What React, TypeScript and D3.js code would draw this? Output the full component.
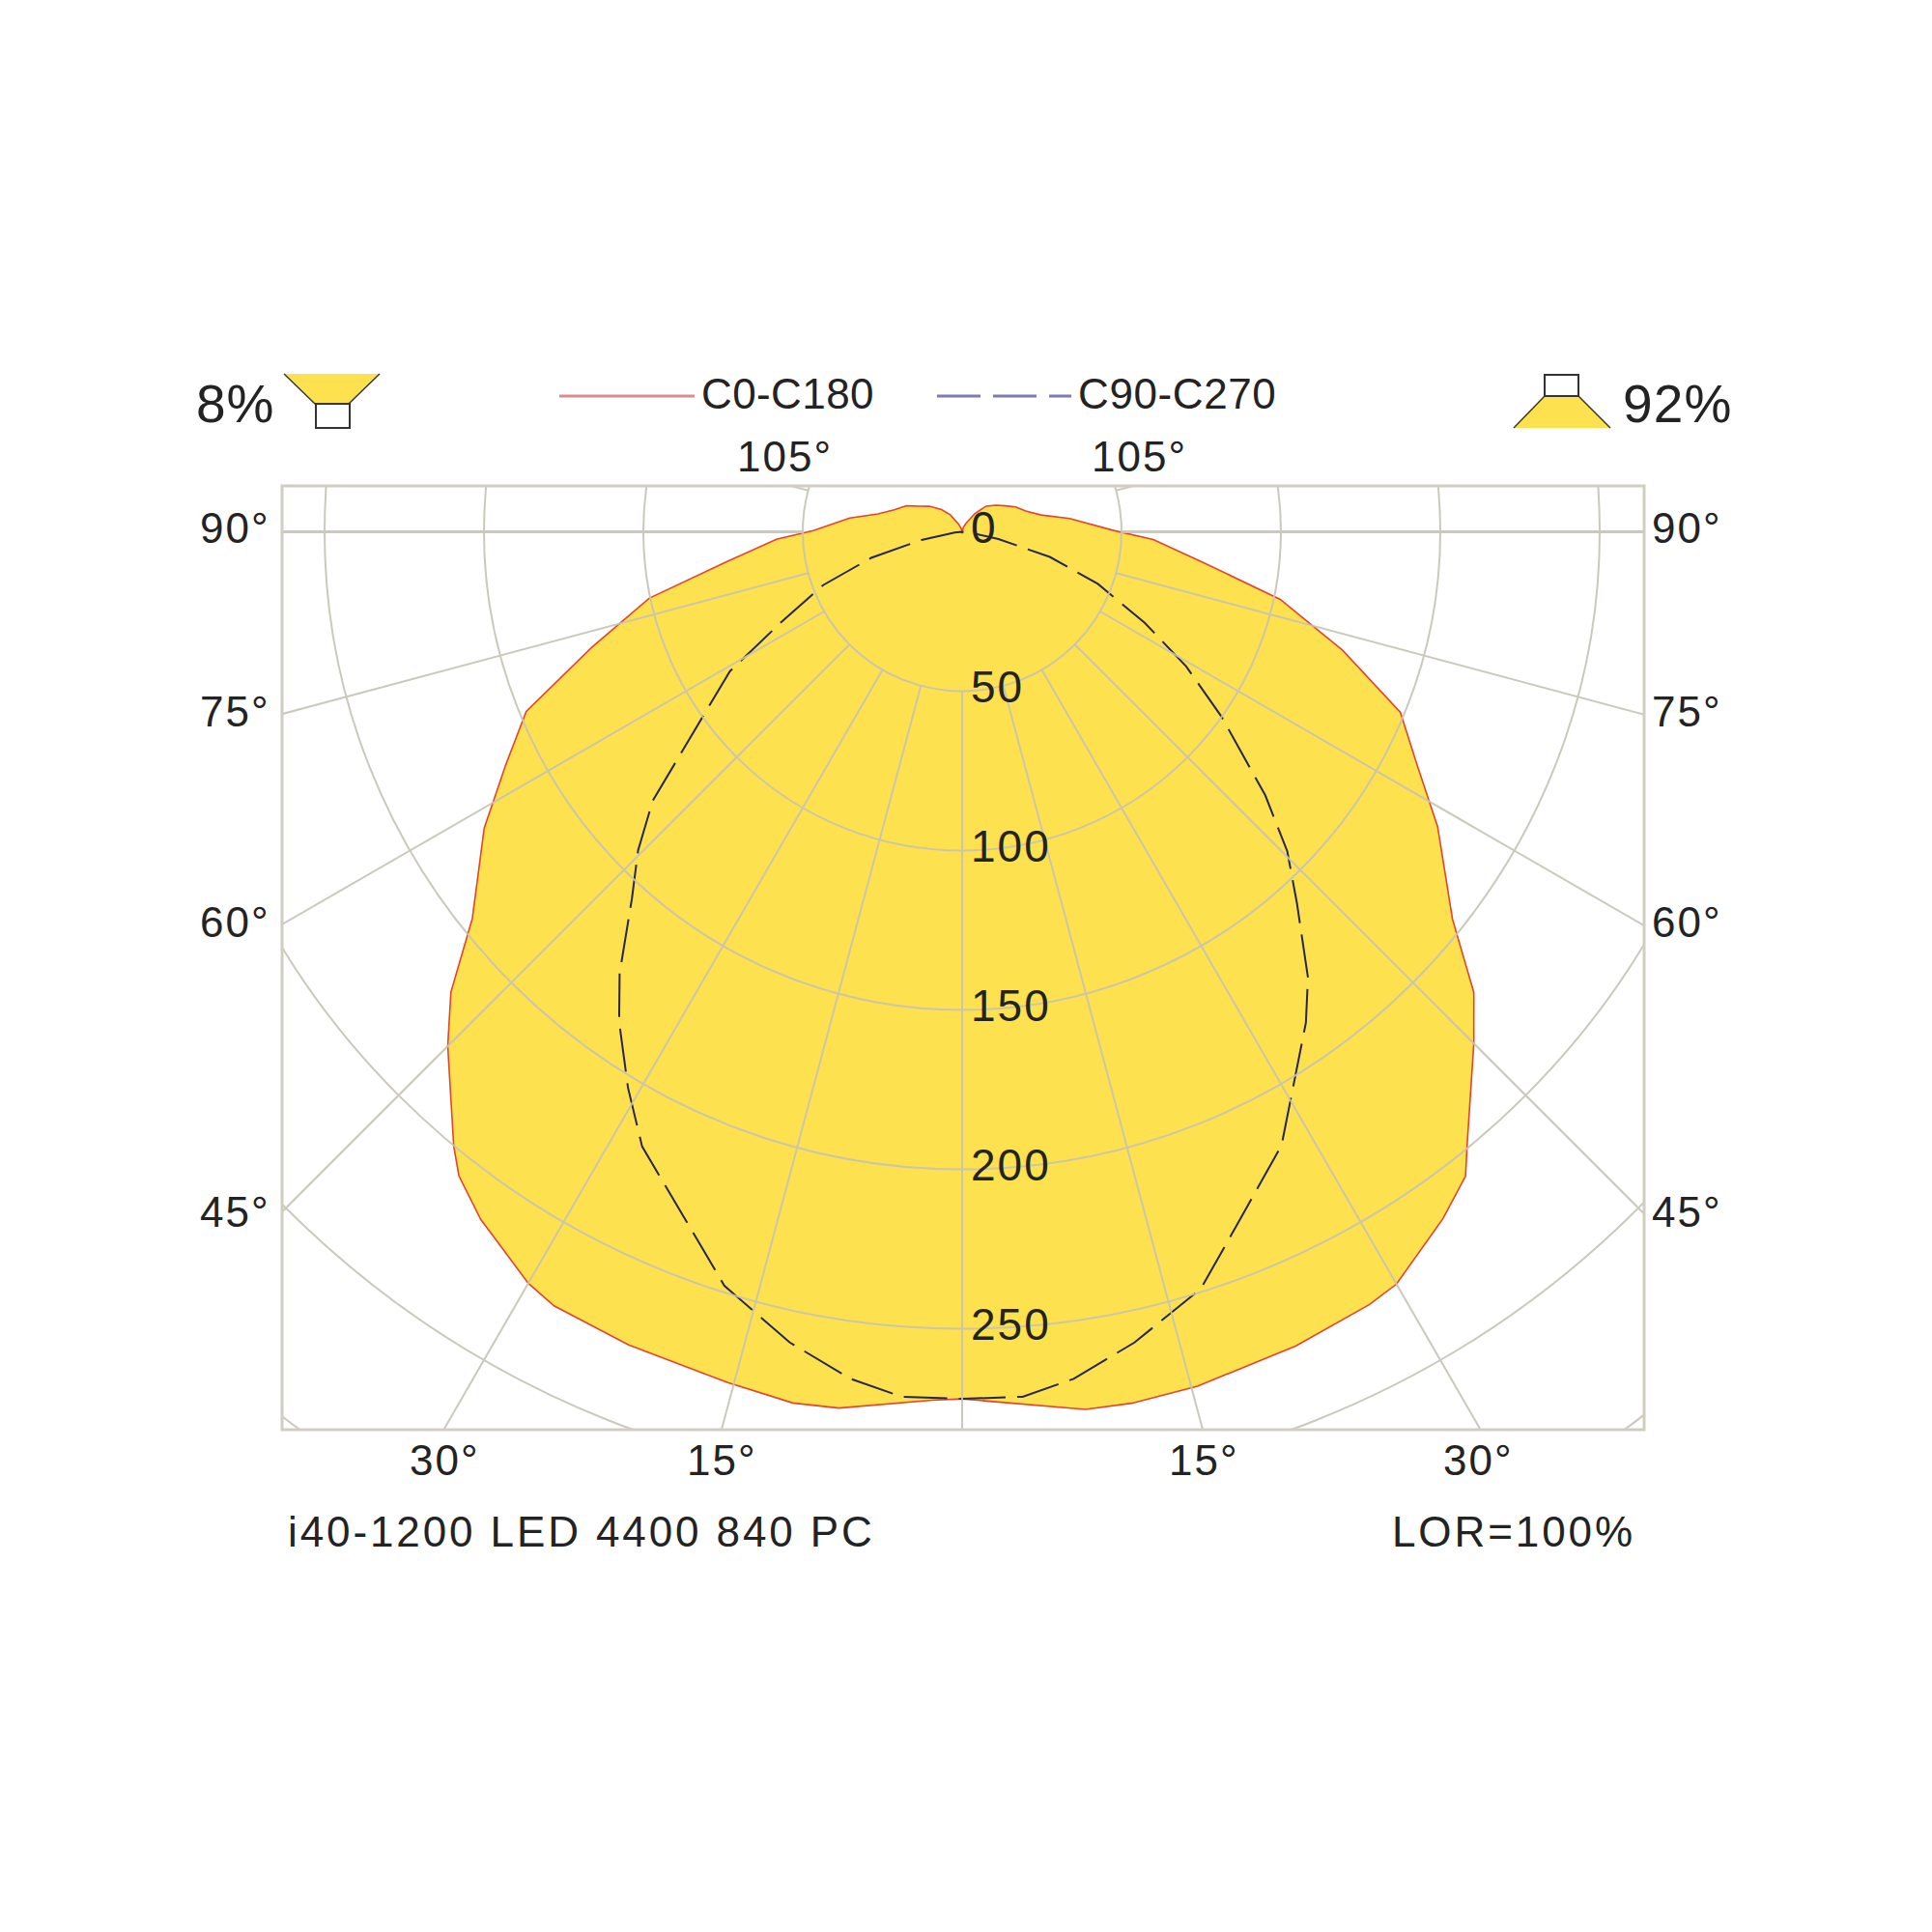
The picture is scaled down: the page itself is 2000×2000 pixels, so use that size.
import React, { useRef, useEffect } from "react";
import * as d3 from "d3";

// gamma angle from nadir (degrees) at the bends of each outline
const solidGammas = [0, 2, 8, 11, 15.4, 22.3, 27.8, 30, 35, 38, 39.6, 45, 48, 51.7, 58.2, 63, 67.6, 72.7, 78, 82.8, 87.7, 90.5, 97, 102, 108, 115, 121, 128, 137, 145, 155, 165, 180];
const dashedGammas = [0, 4, 7.5, 12, 17.5, 21, 27.5, 31, 35, 37.8, 42, 45.5, 49, 54.5, 59, 63.5, 69, 74, 78.7, 85, 90];

// cd/klm
const c0Values = [272, 273, 278, 278.5, 278, 276, 274, 272.5, 263, 256.5, 248.6, 227, 216, 196, 175.5, 160, 148.7, 125, 102, 76, 60, 47.5, 34, 25.3, 21, 18.5, 15.8, 13.5, 11, 7, 3, 1.5, 0];
const c180Values = [272, 272.6, 277.6, 278.4, 276.8, 275.7, 274.5, 272.2, 263.3, 256.4, 250.2, 228.2, 215.8, 195.8, 176.4, 160.6, 147.9, 121.6, 100.4, 74.3, 58.3, 46.7, 35.5, 27, 22.4, 19.3, 15.6, 13, 9.5, 6.5, 2.7, 1, 0];
const c90Values = [272, 272, 268, 260, 249, 236, 217, 202, 188, 177, 157, 143, 126, 100, 82, 64, 45.6, 28.6, 11.6, 2.3, 0];
const c270Values = [272, 272, 268, 260, 248, 235.5, 217.4, 203.5, 187.6, 175.3, 154.8, 142.5, 128.6, 100, 85, 63.3, 46.7, 29.7, 13, 2.3, 0];

const ringValues = [50, 100, 150, 200, 250, 300, 350];
const radialLabels = [0, 50, 100, 150, 200, 250];
const spokeAngles = [0, 15, 30, 45, 60, 75, 90, 105];
const sideLabels = ["90°", "75°", "60°", "45°"];
const bottomLabels = ["30°", "15°", "15°", "30°"];

const FONT = "'Liberation Sans', Arial, sans-serif";
const TEXT = "#232323";
const GRID = "#c6c4b6";
const YELLOW = "#fee14e";

const App: React.FC = () => {
  const svgRef = useRef<SVGSVGElement | null>(null);

  useEffect(() => {
    const svg = d3.select(svgRef.current);
    svg.selectAll("*").remove();

    const frame = { left: 292, right: 1702, top: 503, bottom: 1480 };
    const cx = 996;
    const cy = 550.5;
    const r = d3.scaleLinear().domain([0, 350]).range([0, 1155]);
    const rad = (deg: number) => (deg * Math.PI) / 180;

    svg
      .append("defs")
      .append("clipPath")
      .attr("id", "frame-clip")
      .append("rect")
      .attr("x", frame.left)
      .attr("y", frame.top)
      .attr("width", frame.right - frame.left)
      .attr("height", frame.bottom - frame.top);

    const g = svg.append("g").attr("transform", `translate(${cx},${cy})`);

    const radial = d3
      .lineRadial<[number, number]>()
      .angle((d) => d[0])
      .radius((d) => r(d[1]));

    // right half runs gamma 0 -> 180, left half comes back
    const closedCurve = (gammas: number[], right: number[], left: number[]) => {
      const pts: [number, number][] = [];
      right.forEach((v, i) => pts.push([Math.PI - rad(gammas[i]), v]));
      for (let i = left.length - 1; i >= 0; i--) {
        pts.push([Math.PI + rad(gammas[i]), left[i]]);
      }
      return radial(pts) + "Z";
    };

    const solidPath = closedCurve(solidGammas, c0Values, c180Values);

    g.append("path").attr("d", solidPath).attr("fill", YELLOW);

    // Grid goes over the fill
    const grid = svg.append("g").attr("clip-path", "url(#frame-clip)");
    const gridInner = grid
      .append("g")
      .attr("transform", `translate(${cx},${cy})`)
      .attr("opacity", 0.9);

    ringValues.forEach((v) => {
      gridInner
        .append("circle")
        .attr("r", r(v))
        .attr("fill", "none")
        .attr("stroke", GRID)
        .attr("stroke-width", 2);
    });

    spokeAngles.forEach((a) => {
      const sides = a === 0 ? [1] : [1, -1];
      sides.forEach((s) => {
        gridInner
          .append("line")
          .attr("x1", s * r(50) * Math.sin(rad(a)))
          .attr("y1", r(50) * Math.cos(rad(a)))
          .attr("x2", s * 2000 * Math.sin(rad(a)))
          .attr("y2", 2000 * Math.cos(rad(a)))
          .attr("stroke", GRID)
          .attr("stroke-width", a === 90 ? 3 : 2);
      });
    });

    svg
      .append("rect")
      .attr("x", frame.left)
      .attr("y", frame.top)
      .attr("width", frame.right - frame.left)
      .attr("height", frame.bottom - frame.top)
      .attr("fill", "none")
      .attr("stroke", "#d0cec3")
      .attr("stroke-width", 3);

    g.append("path")
      .attr("d", solidPath)
      .attr("fill", "none")
      .attr("stroke", "#e6432c")
      .attr("stroke-width", 1.6);

    g.append("path")
      .attr("d", closedCurve(dashedGammas, c90Values, c270Values))
      .attr("fill", "none")
      .attr("stroke", "#26264e")
      .attr("stroke-width", 2)
      .attr("stroke-dasharray", "45 12");

    // Text
    const label = (
      x: number,
      y: number,
      s: string,
      size = 44,
      spacing = 2,
      anchor = "start"
    ) =>
      svg
        .append("text")
        .attr("x", x)
        .attr("y", y)
        .attr("font-family", FONT)
        .attr("font-size", size)
        .attr("letter-spacing", spacing)
        .attr("fill", TEXT)
        .attr("text-anchor", anchor)
        .text(s);

    radialLabels.forEach((v) => {
      label(1005, cy + r(v) + 11, String(v), 46, 2);
    });

    const sideBaselines = [562, 752, 970, 1270];
    sideLabels.forEach((s, i) => {
      label(207, sideBaselines[i], s);
      label(1710, sideBaselines[i], s);
    });

    label(763, 488, "105°");
    label(1130, 488, "105°");

    const bottomX = [424, 711, 1210, 1494];
    bottomLabels.forEach((s, i) => label(bottomX[i], 1527, s));

    label(298, 1601, "i40-1200 LED 4400 840 PC", 44, 2.9);
    label(1441, 1601, "LOR=100%", 44, 2.9);

    // Legend
    svg
      .append("line")
      .attr("x1", 579)
      .attr("x2", 719)
      .attr("y1", 410)
      .attr("y2", 410)
      .attr("stroke", "#d98b8e")
      .attr("stroke-width", 3);
    label(726, 423, "C0-C180", 44, 0.4);
    svg
      .append("line")
      .attr("x1", 970)
      .attr("x2", 1109)
      .attr("y1", 410)
      .attr("y2", 410)
      .attr("stroke", "#7d7bb0")
      .attr("stroke-width", 3)
      .attr("stroke-dasharray", "45 13");
    label(1116, 423, "C90-C270", 44, 0.6);

    // Up / down light icons
    label(203, 437, "8%", 55, 1);
    label(1680, 437, "92%", 55, 1.2);

    const line = d3.line();
    svg
      .append("path")
      .attr("d", line([[294, 387], [393, 387], [361, 418], [326, 418]]) + "Z")
      .attr("fill", YELLOW);
    svg
      .append("path")
      .attr("d", line([[294, 387], [326, 418], [361, 418], [393, 387]]))
      .attr("fill", "none")
      .attr("stroke", "#3a3a2a")
      .attr("stroke-width", 1.5);
    svg
      .append("rect")
      .attr("x", 327)
      .attr("y", 418)
      .attr("width", 35)
      .attr("height", 25)
      .attr("fill", "#fff")
      .attr("stroke", "#333")
      .attr("stroke-width", 2);

    svg
      .append("path")
      .attr("d", line([[1599, 410], [1634, 410], [1667, 443], [1567, 443]]) + "Z")
      .attr("fill", YELLOW);
    svg
      .append("path")
      .attr("d", line([[1567, 443], [1599, 410], [1634, 410], [1667, 443]]))
      .attr("fill", "none")
      .attr("stroke", "#3a3a2a")
      .attr("stroke-width", 1.5);
    svg
      .append("rect")
      .attr("x", 1599)
      .attr("y", 388)
      .attr("width", 35)
      .attr("height", 22)
      .attr("fill", "#fff")
      .attr("stroke", "#333")
      .attr("stroke-width", 2);
  }, []);

  return (
    <svg
      ref={svgRef}
      width={2000}
      height={2000}
      viewBox="0 0 2000 2000"
      style={{ position: "absolute", left: 0, top: 0, background: "#fff" }}
    />
  );
};

export default App;
